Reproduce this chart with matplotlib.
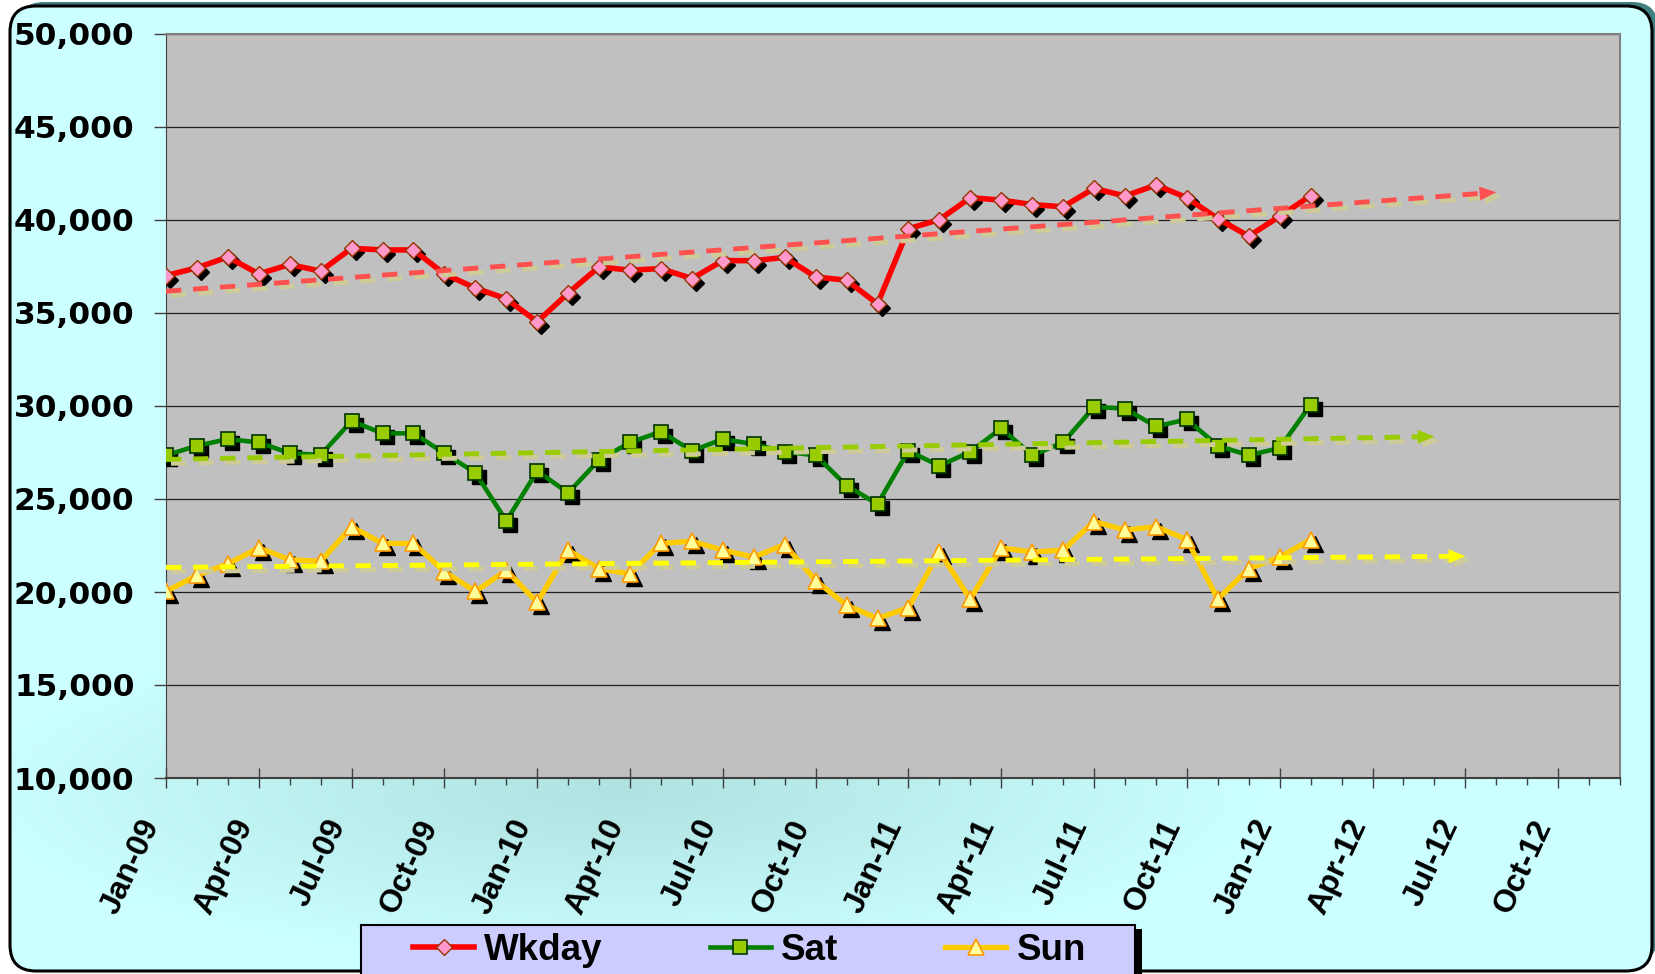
import numpy as np
import matplotlib
matplotlib.use("Agg")
import matplotlib.pyplot as plt
from matplotlib.patches import FancyBboxPatch, Rectangle
from matplotlib.transforms import offset_copy
from matplotlib.ticker import FixedLocator, MultipleLocator, FuncFormatter

W, H = 1655, 974

# monthly values, Jan-09 .. Feb-12 (x = month index from Jan-09)
months = np.arange(38)
wkday = [37010, 37430, 38010, 37100, 37610, 37250, 38480, 38390, 38390, 37100, 36340, 35760,
         34530, 36070, 37480, 37300, 37390, 36850, 37820, 37810, 37990, 36940, 36760, 35490,
         39530, 40020, 41200, 41070, 40830, 40710, 41700, 41290, 41880, 41200, 40070, 39130,
         40200, 41310]
sat = [27350, 27860, 28220, 28040, 27460, 27370, 29190, 28530, 28530, 27460, 26410, 23820,
       26500, 25330, 27100, 28040, 28620, 27590, 28220, 27950, 27540, 27350, 25720, 24730,
       27590, 26780, 27540, 28800, 27350, 28040, 29950, 29860, 28900, 29280, 27860, 27350,
       27740, 30070]
sun = [20030, 20890, 21520, 22370, 21740, 21650, 23510, 22610, 22610, 21100, 20030, 21160,
       19440, 22250, 21250, 20980, 22610, 22730, 22250, 21880, 22550, 20610, 19290, 18580,
       19160, 22150, 19620, 22370, 22150, 22250, 23790, 23330, 23510, 22820, 19620, 21250,
       21880, 22820]
series_names = ["Wkday", "Sat", "Sun"]
tick_pos = list(range(0, 46, 3))
tick_labels = ["Jan-09", "Apr-09", "Jul-09", "Oct-09", "Jan-10", "Apr-10", "Jul-10", "Oct-10",
               "Jan-11", "Apr-11", "Jul-11", "Oct-11", "Jan-12", "Apr-12", "Jul-12", "Oct-12"]
y_ticks = list(range(10000, 50001, 5000))
trend_end = [43, 41, 42]  # how far each trendline is projected forward

plt.rcParams["lines.scale_dashes"] = False

fig = plt.figure(figsize=(W / 100, H / 100), dpi=100)
fig.patch.set_facecolor("white")

# rounded cyan panel with a soft darker patch along the x axis
bg = fig.add_axes([0, 0, 1, 1], zorder=-10)
bg.set_xlim(0, W)
bg.set_ylim(H, 0)
bg.axis("off")
bg.add_patch(FancyBboxPatch((18, 2), 1640, 960, boxstyle="round,pad=0,rounding_size=26",
                            fc="#3F7F7F", ec="none", zorder=0))
panel = FancyBboxPatch((10, 6), 1642, 965, boxstyle="round,pad=0,rounding_size=26",
                       fc="#CCFFFF", ec="none", zorder=1)
bg.add_patch(panel)
yy, xx = np.mgrid[0:H, 0:W]
d = np.sqrt(((xx - 620) / 640.0) ** 2 + ((yy - 790) / 170.0) ** 2)
t = np.clip(1 - d, 0, 1) ** 0.9
c0 = np.array([204, 255, 255]) / 255
c1 = np.array([176, 226, 226]) / 255
img = c0 * (1 - t[..., None]) + c1 * t[..., None]
im = bg.imshow(img, extent=(0, W, H, 0), aspect="auto", zorder=2)
im.set_clip_path(panel)
bg.add_patch(FancyBboxPatch((10, 6), 1642, 965, boxstyle="round,pad=0,rounding_size=26",
                            fc="none", ec="black", lw=2.2, zorder=3))

# legend box + shadow
bg.add_patch(Rectangle((1135, 929), 7, 60, fc="black", ec="none", zorder=5))
bg.add_patch(Rectangle((361, 925), 774, 60, fc="#CCCCFF", ec="black", lw=1.5, zorder=6))

ax = fig.add_axes([166 / W, 1 - 778 / H, (1620 - 166) / W, (778 - 34) / H])
ax.set_facecolor("#C0C0C0")
ax.set_xlim(0, 47)
ax.set_ylim(10000, 50000)

styles = [
    dict(color="#FF0000", lw=4, marker="D", ms=8.5, mfc="#FF99CC", mec="#993300", mew=1),
    dict(color="#008000", lw=3.3, marker="s", ms=10, mfc="#99CC00", mec="#003300", mew=1.2),
    dict(color="#FFCC00", lw=3.8, marker="^", ms=12, mfc="#FFFF99", mec="#FF9900", mew=1.2),
]
trend_colors = ["#FF5050", "#99CC00", "#FFFF00"]

mk_shadow = offset_copy(ax.transData, fig=fig, x=4, y=-4, units="dots")
tr_shadow = offset_copy(ax.transData, fig=fig, x=5, y=-4, units="dots")

handles = []
for vals, name, st, tc, xe in zip([wkday, sat, sun], series_names, styles, trend_colors, trend_end):
    ax.plot(months, vals, ls="none", marker=st["marker"], ms=st["ms"], color="black",
            mec="black", transform=mk_shadow, zorder=3)
    h, = ax.plot(months, vals, zorder=4, label=name, **st)
    handles.append(h)

    # linear trendline, projected forward with an arrow head
    k, b = np.polyfit(months, vals, 1)
    xs = np.array([0, xe - 0.45])
    for tr, col, z in [(tr_shadow, "#CFCB98", 5), (ax.transData, tc, 6)]:
        ax.plot(xs, k * xs + b, color=col, lw=3.5, dashes=(11, 8.5), transform=tr, zorder=z)
        ax.annotate("", xy=(xe, k * xe + b), xytext=(xe - 1, k * (xe - 1) + b),
                    xycoords=tr, textcoords=tr, zorder=z,
                    arrowprops=dict(arrowstyle="-|>,head_length=12,head_width=5",
                                    mutation_scale=1, color=col, lw=0,
                                    shrinkA=0, shrinkB=0))

# axes styling
ax.yaxis.set_major_locator(FixedLocator(y_ticks))
ax.yaxis.set_major_formatter(FuncFormatter(lambda v, p: f"{v:,.0f}"))
ax.set_xticks(tick_pos, tick_labels)
ax.xaxis.set_minor_locator(MultipleLocator(1))
ax.tick_params(axis="y", direction="out", length=8.6, width=1, color="#404040", pad=14)
ax.tick_params(axis="x", which="major", direction="inout", length=15, width=1,
               color="#404040", pad=19)
ax.tick_params(axis="x", which="minor", direction="out", length=5, width=1, color="#404040")
for lab in ax.get_yticklabels():
    lab.set(family="DejaVu Sans", weight="bold", size=22.5)
for lab in ax.get_xticklabels():
    lab.set(family="Liberation Sans", weight="bold", size=23, rotation=65, ha="right", va="top")

ax.grid(axis="y", color="#202020", lw=0.9)
ax.set_axisbelow(True)
for side in ["top", "right"]:
    ax.spines[side].set_color("#808080")
    ax.spines[side].set_linewidth(1.5)
ax.spines["left"].set_color("#404040")
ax.spines["bottom"].set_color("#404040")
ax.spines["bottom"].set_linewidth(1.5)

fig.legend(handles, series_names, loc="center left", bbox_to_anchor=(413 / W, 1 - 950 / H),
           ncol=3, frameon=False, prop=dict(family="Liberation Sans", weight="bold", size=26.5),
           handlelength=1.66, handletextpad=0.28, columnspacing=2.9, borderpad=0, borderaxespad=0)

fig.savefig("out.png", dpi=100)
